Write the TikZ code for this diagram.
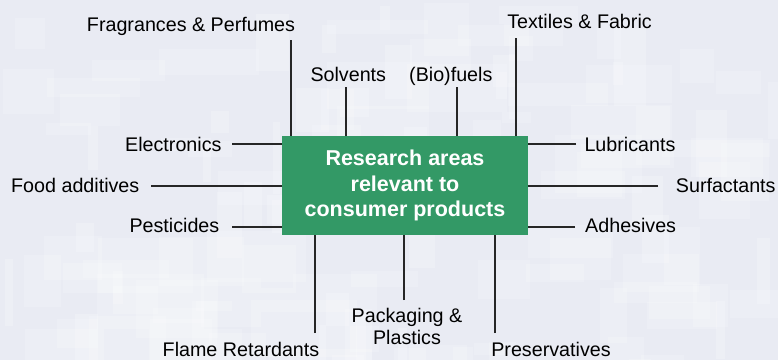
\documentclass[tikz,border=0pt]{standalone}
\usepackage{fontspec}
\setmainfont{Liberation Sans}
\definecolor{boxgreen}{HTML}{339966}
\definecolor{bgbase}{RGB}{233,235,243}
\begin{document}
\begin{tikzpicture}[x=1pt,y=-1pt,
  lbl/.style={inner sep=0pt, font=\fontsize{19.7}{22}\selectfont, text=black},
  conn/.style={line width=1.1pt, draw=black!85},
  mainbox/.style={fill=boxgreen, draw=none, minimum width=246pt, minimum height=99pt,
    inner sep=0pt, align=center, text=white, font=\bfseries\fontsize{21.5}{25.8}\selectfont}]
\useasboundingbox (0,0) rectangle (778,360);
% background
\begin{scope}
\clip (0,0) rectangle (778,360);
\fill[bgbase] (0,0) rectangle (778,360);
\pgfmathsetseed{7}
\foreach \i in {1,...,90}{
  \pgfmathsetmacro{\xx}{rnd*778}
  \pgfmathsetmacro{\yy}{rnd*360}
  \pgfmathsetmacro{\ww}{20+rnd*90}
  \pgfmathsetmacro{\hh}{10+rnd*50}
  \fill[white, opacity=0.18] (\xx,\yy) rectangle ++(\ww,\hh);
}
\foreach \i in {1,...,40}{
  \pgfmathsetmacro{\xx}{rnd*778}
  \pgfmathsetmacro{\yy}{rnd*360}
  \pgfmathsetmacro{\ww}{5+rnd*30}
  \pgfmathsetmacro{\hh}{20+rnd*60}
  \fill[white, opacity=0.2] (\xx,\yy) rectangle ++(\ww,\hh);
}
\end{scope}

% central box
\node[mainbox] (box) at (405,185.5) {Research areas\\relevant to\\consumer products};

% labels
\node[lbl, anchor=base] (frag) at (191,31) {Fragrances \& Perfumes};
\node[lbl, anchor=base] (solv) at (348.3,81.7) {Solvents};
\node[lbl, anchor=base] (bio) at (450.8,81.7) {(Bio)fuels};
\node[lbl, anchor=base] (tex) at (579.5,28.5) {Textiles \& Fabric};
\node[lbl, anchor=base east] (elec) at (221.7,151) {Electronics};
\node[lbl, anchor=base west] (food) at (11,192) {Food additives};
\node[lbl, anchor=base east] (pest) at (219.5,232) {Pesticides};
\node[lbl, anchor=base west] (lub) at (584.3,151) {Lubricants};
\node[lbl, anchor=base west] (surf) at (675.7,192) {Surfactants};
\node[lbl, anchor=base west] (adh) at (585,232) {Adhesives};
\node[lbl, anchor=north, align=center] (pack) at (407,308.5) {Packaging \&\\Plastics};
\node[lbl, anchor=base] (flame) at (241,356.5) {Flame Retardants};
\node[lbl, anchor=base] (pres) at (551,356.5) {Preservatives};

% connector end points
\coordinate (fragE) at (291,40);
\coordinate (solvE) at (346,87);
\coordinate (bioE) at (457,87);
\coordinate (texE) at (516,38);
\coordinate (elecE) at (232,144);
\coordinate (foodE) at (151,186);
\coordinate (pestE) at (232,227);
\coordinate (lubE) at (576,144);
\coordinate (surfE) at (658,186);
\coordinate (adhE) at (575,227);
\coordinate (flameE) at (315,333);
\coordinate (packE) at (404,300);
\coordinate (presE) at (495,333);

% connectors
\draw[conn] (fragE) -- (fragE |- box.north);
\draw[conn] (solvE) -- (solvE |- box.north);
\draw[conn] (bioE) -- (bioE |- box.north);
\draw[conn] (texE) -- (texE |- box.north);
\draw[conn] (elecE) -- (elecE -| box.west);
\draw[conn] (foodE) -- (foodE -| box.west);
\draw[conn] (pestE) -- (pestE -| box.west);
\draw[conn] (lubE) -- (lubE -| box.east);
\draw[conn] (surfE) -- (surfE -| box.east);
\draw[conn] (adhE) -- (adhE -| box.east);
\draw[conn] (flameE) -- (flameE |- box.south);
\draw[conn] (packE) -- (packE |- box.south);
\draw[conn] (presE) -- (presE |- box.south);
\end{tikzpicture}
\end{document}
